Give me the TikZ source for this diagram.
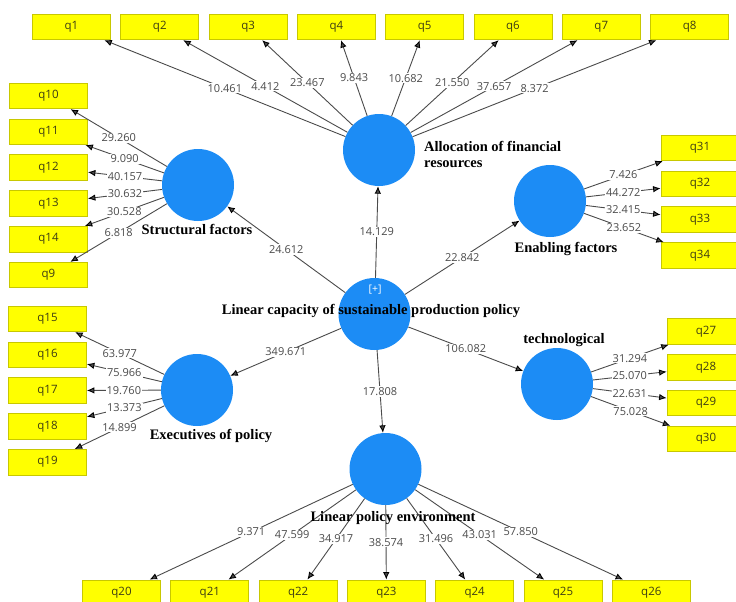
\documentclass[tikz,border=0pt]{standalone}
\usepackage{fontspec}
\setmainfont{Liberation Serif}
\newfontfamily\numfont{Open Sans}
\usepackage{tikz}
\usetikzlibrary{arrows.meta}

\definecolor{lvblue}{RGB}{28,140,245}
\definecolor{itemyellow}{RGB}{255,255,0}
\definecolor{itemedge}{RGB}{200,200,0}
\definecolor{itemtext}{RGB}{60,60,20}
\definecolor{pathgray}{RGB}{75,75,75}

\begin{document}
\begin{tikzpicture}[x=1pt,y=-1pt,->,>={Latex[length=7.5pt,width=6.5pt,color=black]},node distance=35.8pt,
                    lv node/.style={circle,fill=lvblue,minimum size=72pt,inner sep=0pt},
                    item node/.style={rectangle,draw=itemedge,fill=itemyellow,line width=0.8pt,
                      minimum width=78pt,minimum height=25.5pt,inner sep=0pt,text=itemtext,
                      font=\numfont\fontsize{11.5}{13}\selectfont},
                    name node/.style={font=\bfseries\fontsize{14.5}{16}\selectfont,inner sep=0pt}]

  \clip (0,0) rectangle (736,602);

  % latent variables
  \node[lv node] (cap) at (374.5,314) {};
  \node[lv node] (alloc) at (379,150) {};
  \node[lv node] (struct) at (198,185) {};
  \node[lv node] (enab) at (550,201) {};
  \node[lv node] (exec) at (197,390) {};
  \node[lv node] (tech) at (557,384) {};
  \node[lv node] (env) at (385.5,469) {};
  \node[text=white,font=\numfont\fontsize{10.5}{12}\selectfont] (plus) at (375,290) {[+]};

  % indicators
  \node[item node] (q1) at (71.5,27) {q1};
  \node[item node] (q20) at (121.5,592.75) {q20};
  \begin{scope}[node distance=88.3pt]
    \node[item node] (q2) [right of=q1] {q2};
    \node[item node] (q3) [right of=q2] {q3};
    \node[item node] (q4) [right of=q3] {q4};
    \node[item node] (q5) [right of=q4] {q5};
    \node[item node] (q6) [right of=q5] {q6};
    \node[item node] (q7) [right of=q6] {q7};
    \node[item node] (q8) [right of=q7] {q8};
    \node[item node] (q21) [right of=q20] {q21};
    \node[item node] (q22) [right of=q21] {q22};
    \node[item node] (q23) [right of=q22] {q23};
    \node[item node] (q24) [right of=q23] {q24};
    \node[item node] (q25) [right of=q24] {q25};
    \node[item node] (q26) [right of=q25] {q26};
  \end{scope}

  \node[item node] (q10) at (48.5,96) {q10};
  \node[item node] (q11) [below of=q10] {q11};
  \node[item node] (q12) [below of=q11] {q12};
  \node[item node] (q13) [below of=q12] {q13};
  \node[item node] (q14) [below of=q13] {q14};
  \node[item node] (q9) [below of=q14] {q9};

  \node[item node] (q15) at (47.5,319) {q15};
  \node[item node] (q16) [below of=q15] {q16};
  \node[item node] (q17) [below of=q16] {q17};
  \node[item node] (q18) [below of=q17] {q18};
  \node[item node] (q19) [below of=q18] {q19};

  \node[item node] (q31) at (700,148) {q31};
  \node[item node] (q32) [below of=q31] {q32};
  \node[item node] (q33) [below of=q32] {q33};
  \node[item node] (q34) [below of=q33] {q34};

  \node[item node] (q27) at (706,331.5) {q27};
  \node[item node] (q28) [below of=q27] {q28};
  \node[item node] (q29) [below of=q28] {q29};
  \node[item node] (q30) [below of=q29] {q30};

  \path[color=pathgray,line width=0.9pt,
        every node/.style={fill=white,inner sep=1pt,text=pathgray,font=\numfont\fontsize{11}{12}\selectfont}]
    (cap) edge node {24.612} (struct)
          edge node {14.129} (alloc)
          edge node {22.842} (enab)
          edge node {349.671} (exec)
          edge node {106.082} (tech)
          edge node {17.808} (env)
    (alloc) edge node {10.461} (q1)
            edge node {4.412} (q2)
            edge node {23.467} (q3)
            edge node {9.843} (q4)
            edge node {10.682} (q5)
            edge node {21.550} (q6)
            edge node {37.657} (q7)
            edge node {8.372} (q8)
    (struct) edge node {29.260} (q10)
             edge node {9.090} (q11)
             edge node {40.157} (q12)
             edge node {30.632} (q13)
             edge node {30.528} (q14)
             edge node {6.818} (q9)
    (exec) edge node {63.977} (q15)
           edge node {75.966} (q16)
           edge node {19.760} (q17)
           edge node {13.373} (q18)
           edge node {14.899} (q19)
    (enab) edge node {7.426} (q31)
           edge node {44.272} (q32)
           edge node {32.415} (q33)
           edge node {23.652} (q34)
    (tech) edge node {31.294} (q27)
           edge node {25.070} (q28)
           edge node {22.631} (q29)
           edge node {75.028} (q30)
    (env) edge node {9.371} (q20)
          edge node {47.599} (q21)
          edge node {34.917} (q22)
          edge node {38.574} (q23)
          edge node {31.496} (q24)
          edge node {43.031} (q25)
          edge node {57.850} (q26);

  % construct names
  \node[name node] (capname) at (371,311) {Linear capacity of sustainable production policy};
  \node[name node,align=left,anchor=west] (allocname) at (424,154) {Allocation of financial\\resources};
  \node[name node] (structname) at (197,229) {Structural factors};
  \node[name node] (enabname) at (566,249) {Enabling factors};
  \node[name node] (execname) at (211,436) {Executives of policy};
  \node[name node] (techname) at (564,340) {technological};
  \node[name node] (envname) at (393,518) {Linear policy environment};
\end{tikzpicture}
\end{document}
